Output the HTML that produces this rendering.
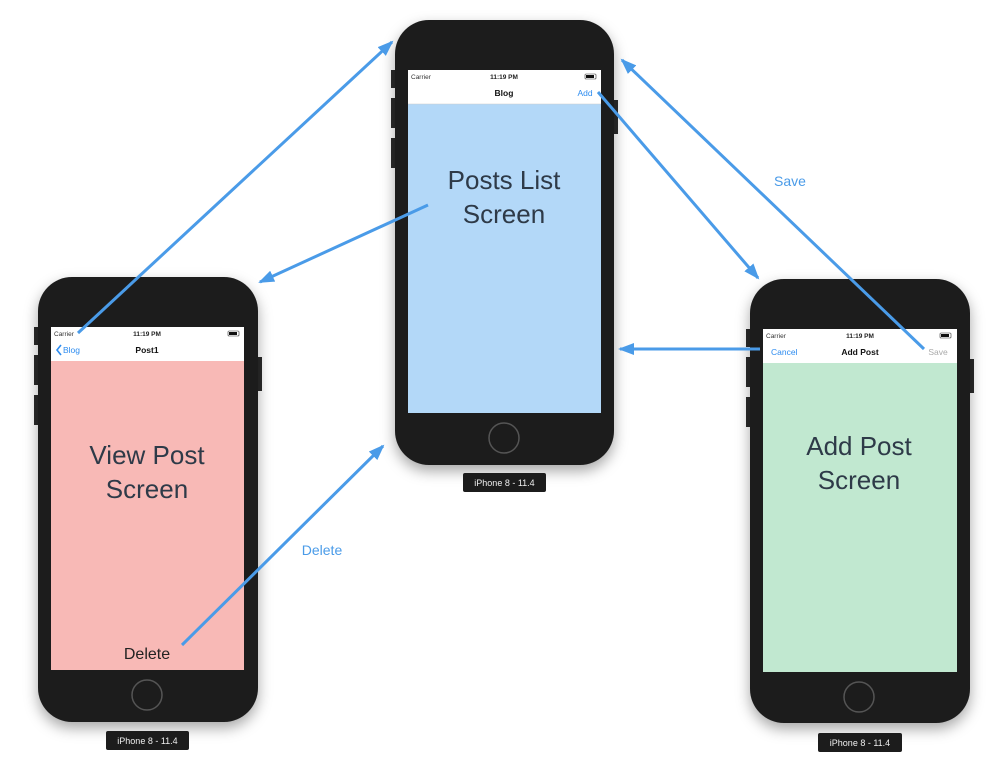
<!DOCTYPE html>
<html><head><meta charset="utf-8"><style>
html,body{margin:0;padding:0;background:#fff;width:1007px;height:768px;overflow:hidden}
svg{display:block;font-family:"Liberation Sans",sans-serif}
</style></head><body>
<svg width="1007" height="768" viewBox="0 0 1007 768">
<defs>
<filter id="sh" x="-20%" y="-20%" width="140%" height="140%"><feDropShadow dx="0" dy="6" stdDeviation="7" flood-color="#000" flood-opacity="0.35"/></filter>
<marker id="ah" markerWidth="10" markerHeight="10" refX="8" refY="5" orient="auto" markerUnits="userSpaceOnUse" viewBox="0 0 10 10"><path d="M0,0 L10,5 L0,10 z" fill="#4a9be8" transform="scale(1)"/></marker>
<marker id="ah2" markerWidth="16" markerHeight="12" refX="14" refY="6" orient="auto" markerUnits="userSpaceOnUse"><path d="M0,0 L16,6 L0,12 z" fill="#4a9be8"/></marker>
</defs>

<!-- Top phone -->
<g>
<rect x="391" y="70" width="5" height="18" fill="#2a2a2a"/><rect x="391" y="98" width="5" height="30" fill="#2a2a2a"/><rect x="391" y="138" width="5" height="30" fill="#2a2a2a"/><rect x="613" y="100" width="5" height="34" fill="#2a2a2a"/>
<rect x="395" y="20" width="219" height="445" rx="34" fill="#1c1c1c" filter="url(#sh)"/>
<rect x="408" y="70" width="193" height="343" fill="#b3d8f8"/>
<rect x="408" y="70" width="193" height="34" fill="#fff"/>
<line x1="408" y1="104" x2="601" y2="104" stroke="#ccc" stroke-width="0.5"/>
<text x="411" y="79" font-size="6.5" fill="#333">Carrier</text>
<text x="504" y="79" font-size="6.5" fill="#222" text-anchor="middle" font-weight="bold">11:19 PM</text>
<rect x="585" y="74" width="11" height="5" rx="1" fill="none" stroke="#333" stroke-width="0.6"/><rect x="586" y="75" width="8" height="3" fill="#111"/>
<text x="504" y="96" font-size="8.5" fill="#111" text-anchor="middle" font-weight="bold">Blog</text>
<text x="585" y="96" font-size="8.5" fill="#2d8cf0" text-anchor="middle">Add</text>
<text x="504" y="189" font-size="26" fill="#2e3a48" text-anchor="middle">Posts List</text>
<text x="504" y="223" font-size="26" fill="#2e3a48" text-anchor="middle">Screen</text>
<circle cx="504" cy="438" r="15" fill="none" stroke="#555" stroke-width="1.5"/>
<rect x="463" y="473" width="83" height="19" rx="2" fill="#1c1c1c"/>
<text x="504.5" y="486" font-size="9" fill="#eee" text-anchor="middle">iPhone 8 - 11.4</text>
</g>

<!-- Left phone -->
<g>
<rect x="34" y="327" width="5" height="18" fill="#2a2a2a"/><rect x="34" y="355" width="5" height="30" fill="#2a2a2a"/><rect x="34" y="395" width="5" height="30" fill="#2a2a2a"/><rect x="257" y="357" width="5" height="34" fill="#2a2a2a"/>
<rect x="38" y="277" width="220" height="445" rx="34" fill="#1c1c1c" filter="url(#sh)"/>
<rect x="51" y="327" width="193" height="343" fill="#f8b9b6"/>
<rect x="51" y="327" width="193" height="34" fill="#fff"/>
<text x="54" y="336" font-size="6.5" fill="#333">Carrier</text>
<text x="147" y="336" font-size="6.5" fill="#222" text-anchor="middle" font-weight="bold">11:19 PM</text>
<rect x="228" y="331" width="11" height="5" rx="1" fill="none" stroke="#333" stroke-width="0.6"/><rect x="229" y="332" width="8" height="3" fill="#111"/>
<path d="M61,345 L57,350 L61,355" fill="none" stroke="#2d8cf0" stroke-width="1.6"/>
<text x="63" y="353" font-size="8.5" fill="#2d8cf0">Blog</text>
<text x="147" y="353" font-size="8.5" fill="#111" text-anchor="middle" font-weight="bold">Post1</text>
<text x="147" y="464" font-size="26" fill="#2e3a48" text-anchor="middle">View Post</text>
<text x="147" y="498" font-size="26" fill="#2e3a48" text-anchor="middle">Screen</text>
<text x="147" y="659" font-size="16" fill="#222" text-anchor="middle">Delete</text>
<circle cx="147" cy="695" r="15" fill="none" stroke="#555" stroke-width="1.5"/>
<rect x="106" y="731" width="83" height="19" rx="2" fill="#1c1c1c"/>
<text x="147.5" y="744" font-size="9" fill="#eee" text-anchor="middle">iPhone 8 - 11.4</text>
</g>

<!-- Right phone -->
<g>
<rect x="746" y="329" width="5" height="18" fill="#2a2a2a"/><rect x="746" y="357" width="5" height="30" fill="#2a2a2a"/><rect x="746" y="397" width="5" height="30" fill="#2a2a2a"/><rect x="969" y="359" width="5" height="34" fill="#2a2a2a"/>
<rect x="750" y="279" width="220" height="444" rx="34" fill="#1c1c1c" filter="url(#sh)"/>
<rect x="763" y="329" width="194" height="343" fill="#c1e8d0"/>
<rect x="763" y="329" width="194" height="34" fill="#fff"/>
<text x="766" y="338" font-size="6.5" fill="#333">Carrier</text>
<text x="860" y="338" font-size="6.5" fill="#222" text-anchor="middle" font-weight="bold">11:19 PM</text>
<rect x="940" y="333" width="11" height="5" rx="1" fill="none" stroke="#333" stroke-width="0.6"/><rect x="941" y="334" width="8" height="3" fill="#111"/>
<text x="771" y="355" font-size="8.5" fill="#2d8cf0">Cancel</text>
<text x="860" y="355" font-size="8.5" fill="#111" text-anchor="middle" font-weight="bold">Add Post</text>
<text x="938" y="355" font-size="8.5" fill="#aaa" text-anchor="middle">Save</text>
<text x="859" y="455" font-size="26" fill="#2e3a48" text-anchor="middle">Add Post</text>
<text x="859" y="489" font-size="26" fill="#2e3a48" text-anchor="middle">Screen</text>
<circle cx="859" cy="697" r="15" fill="none" stroke="#555" stroke-width="1.5"/>
<rect x="818" y="733" width="84" height="19" rx="2" fill="#1c1c1c"/>
<text x="860" y="746" font-size="9" fill="#eee" text-anchor="middle">iPhone 8 - 11.4</text>
</g>

<!-- Arrows -->
<g stroke="#4a9be8" stroke-width="3" fill="none">
<line x1="78" y1="333" x2="392" y2="42" marker-end="url(#ah2)"/>
<line x1="428" y1="205" x2="260" y2="282" marker-end="url(#ah2)"/>
<line x1="598" y1="92" x2="758" y2="278" marker-end="url(#ah2)"/>
<line x1="924" y1="349" x2="622" y2="60" marker-end="url(#ah2)"/>
<line x1="760" y1="349" x2="620" y2="349" marker-end="url(#ah2)"/>
<line x1="182" y1="645" x2="383" y2="446" marker-end="url(#ah2)"/>
</g>
<text x="790" y="186" font-size="14" fill="#4a9be8" text-anchor="middle">Save</text>
<text x="322" y="555" font-size="14" fill="#4a9be8" text-anchor="middle">Delete</text>
</svg>
</body></html>
